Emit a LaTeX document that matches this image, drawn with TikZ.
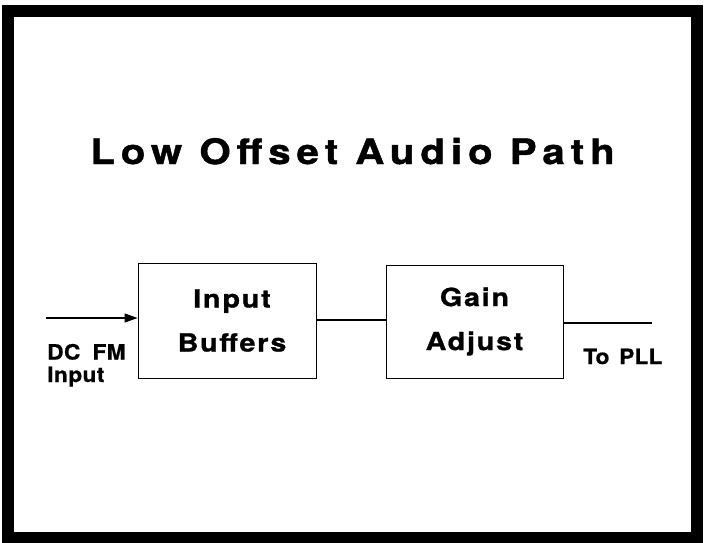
\documentclass[tikz,border=0pt]{standalone}
\usepackage{fontspec}
\setmainfont{TeX Gyre Heros}
\newfontfamily\titlefont{TeX Gyre Heros}[LetterSpace=17,FakeStretch=1.15,FakeBold=1.2]
\newfontfamily\boxfont{TeX Gyre Heros}[LetterSpace=7,FakeStretch=1.15,FakeBold=1]
\newfontfamily\labelfont{TeX Gyre Heros}[LetterSpace=2,WordSpace=1.8,FakeStretch=1.08,FakeBold=0.8]
\newfontfamily\pllfont{TeX Gyre Heros}[LetterSpace=1,WordSpace=1.5,FakeStretch=1.08,FakeBold=0.8]
\usetikzlibrary{arrows.meta}
\begin{document}
\begin{tikzpicture}[x=1pt,y=-1pt,
  block/.style={draw=black,line width=0.9pt,inner sep=0pt,align=center,
    font=\boxfont\bfseries\fontsize{25}{44}\selectfont},
  wire/.style={draw=black,line width=1.2pt},
  lbl/.style={inner sep=0pt,align=left,font=\labelfont\bfseries\fontsize{21}{22.5}\selectfont}]
\useasboundingbox (0,0) rectangle (706,542);
\fill[white] (0,0) rectangle (706,542);
\draw[line width=12pt] (8,11) rectangle (697,538);
\node[anchor=base,inner sep=0pt,font=\titlefont\bfseries\fontsize{35}{42}\selectfont] (title) at (352.5,164) {Low Offset Audio Path};
\node[block,minimum width=178pt,minimum height=115pt] (b1) at (227,320.5) {\hspace*{10pt}Input\\\hspace*{10pt}Buffers};
\node[block,minimum width=177pt,minimum height=113pt] (b2) at (474.5,321.5) {Gain\\Adjust};
\coordinate (in) at (46,318);
\coordinate (out) at (652,323);
\draw[wire,-{Triangle[length=13pt,width=9pt]}] (in) -- (in -| b1.west);
\draw[wire] (b1.east |- 0,320) -- (b2.west |- 0,320);
\draw[wire] (b2.east |- out) -- (out);
\node[lbl,anchor=base west] (dc) at (47,382) {DC FM\\Input};
\node[lbl,anchor=base west,font=\pllfont\bfseries\fontsize{21}{22.5}\selectfont] (pll) at (583,364) {To PLL};
\end{tikzpicture}
\end{document}
